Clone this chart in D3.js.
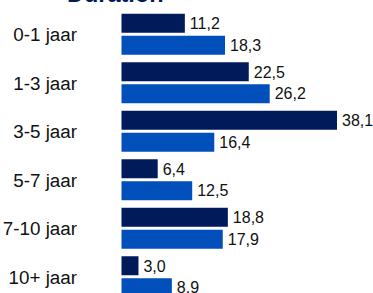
<!DOCTYPE html>
<html><head><meta charset="utf-8">
<script src="https://cdn.jsdelivr.net/npm/d3@7"></script>
<style>body{margin:0;background:#fff}svg{display:block}</style>
</head><body>
<svg id="c" width="373" height="293"></svg>
<script>
const title = "Duration";
const categories = ["0-1 jaar","1-3 jaar","3-5 jaar","5-7 jaar","7-10 jaar","10+ jaar"];
const series = ["s1","s2"];
const values1 = [11.2, 22.5, 38.1, 6.4, 18.8, 3.0];
const values2 = [18.3, 26.2, 16.4, 12.5, 17.9, 8.9];
const colors = ["#001a5a", "#004fbb"];

const svg = d3.select("#c");
const font = "Arial, 'Liberation Sans', sans-serif";
const x = d3.scaleLinear().domain([0, 38.1]).range([121.5, 337]);
const y = d3.scaleBand().domain(categories).range([10, 301]).paddingInner(0.155).paddingOuter(0.0775);
const yi = d3.scaleBand().domain(series).range([0, y.bandwidth()]).paddingInner(0.136);

svg.append("text").attr("x", 67).attr("y", 2).attr("font-family", font)
  .attr("font-size", 23.5).attr("font-weight", "bold").attr("fill", "#001a5a").text(title);

const data = categories.map((c, i) => ({c, vals: [values1[i], values2[i]]}));
const g = svg.selectAll("g.grp").data(data).join("g")
  .attr("transform", d => `translate(0,${y(d.c)})`);

g.selectAll("rect").data(d => d.vals.map((v, k) => ({v, s: series[k], k}))).join("rect")
  .attr("x", x(0)).attr("y", d => yi(d.s)).attr("height", yi.bandwidth())
  .attr("width", d => x(d.v) - x(0)).attr("fill", d => colors[d.k]);

g.selectAll("text.v").data(d => d.vals.map((v, k) => ({v, s: series[k], k}))).join("text")
  .attr("class", "v").attr("x", d => x(d.v) + 5).attr("y", d => yi(d.s) + yi.bandwidth() / 2)
  .attr("dy", "0.36em").attr("font-family", font).attr("font-size", 16).attr("fill", "#111")
  .text(d => d3.format(".1f")(d.v).replace(".", ","));

const yAxis = d3.axisLeft(y).tickSize(0).tickPadding(0);
const ax = svg.append("g").attr("transform", "translate(77,0)").call(yAxis);
ax.select(".domain").remove();
ax.selectAll("text").attr("font-family", font).attr("font-size", 18.8).attr("fill", "#111").attr("dy", "0.37em");
</script>
</body></html>
